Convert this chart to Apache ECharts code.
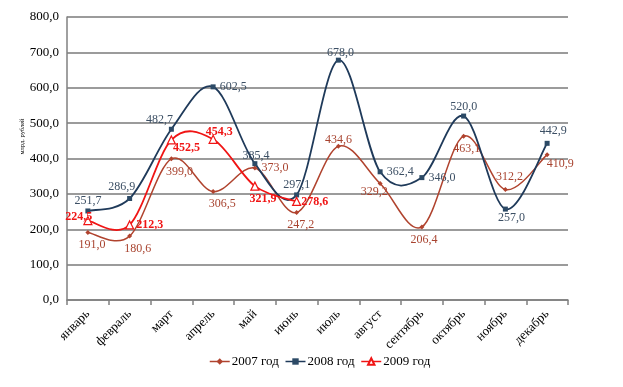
<!DOCTYPE html>
<html><head><meta charset="utf-8">
<script src="https://cdn.jsdelivr.net/npm/echarts@6/dist/echarts.min.js"></script>
<style>html,body{margin:0;padding:0;background:#fff}#c{width:623px;height:387px}</style>
</head><body><div id="c"></div>
<script>
var months = ['январь','февраль','март','апрель','май','июнь','июль','август','сентябрь','октябрь','ноябрь','декабрь'];
var y2007 = [191.0, 180.6, 399.0, 306.5, 373.0, 247.2, 434.6, 329.2, 206.4, 463.1, 312.2, 410.9];
var y2008 = [251.7, 286.9, 482.7, 602.5, 385.4, 297.1, 678.0, 362.4, 346.0, 520.0, 257.0, 442.9];
var y2009 = [224.5, 212.3, 452.5, 454.3, 321.9, 278.6];
var seriesNames = ['2007 год', '2008 год', '2009 год'];
var yTicks = [0, 100, 200, 300, 400, 500, 600, 700, 800];

// styles
var colors = ['#B0432E', '#1F3A5A', '#F01414'];
var labelColors = ['#A8432F', '#3C4F64', '#F01414'];
// label placement (style)
var pos2007 = [['bottom',[4,0]],['bottom',[8,0]],['bottom',[8,0]],['bottom',[9,0]],['right',[0,0]],['bottom',[4,0]],['top',[0,6]],['left',[14,8]],['bottom',[2,0]],['bottom',[3,0]],['top',[4,0]],['right',[-7,9]]];
var pos2008 = [['top',[0,2]],['top',[-8,1]],['top',[-12,3]],['right',[0,0]],['top',[1,5]],['top',[0,2]],['top',[2,5]],['right',[0,0]],['right',[0,0]],['top',[0,3]],['bottom',[6,-4]],['top',[6,0]]];
var pos2009 = [['left',[13,-4]],['right',[-2,0]],['right',[-7,8]],['top',[6,7]],['bottom',[8,-2]],['right',[-4,0]]];

function fmt(v){ return v.toFixed(1).replace('.', ','); }
function mk(vals, pos){
  return vals.map(function(v,i){
    return {value: v, label: {position: pos[i][0], offset: pos[i][1]}};
  });
}
// Catmull-Rom smoothed curve segments drawn through the chart's own coordinate system
function curveSeries(vals, color, width, z){
  return {
    type: 'custom', coordinateSystem: 'cartesian2d', z: z, silent: true,
    data: vals.map(function(v,i){ return [i, v]; }),
    encode: {x: 0, y: 1},
    renderItem: function(params, api){
      var i = params.dataIndex;
      if (i >= vals.length - 1) return null;
      var P = function(k){ k = Math.max(0, Math.min(vals.length-1, k)); return api.coord([k, vals[k]]); };
      var p0 = P(i-1), p1 = P(i), p2 = P(i+1), p3 = P(i+2);
      var t = 1/6;
      var c1 = [p1[0] + (p2[0]-p0[0])*t, p1[1] + (p2[1]-p0[1])*t];
      var c2 = [p2[0] - (p3[0]-p1[0])*t, p2[1] - (p3[1]-p1[1])*t];
      return {
        type: 'bezierCurve',
        shape: {x1: p1[0], y1: p1[1], x2: p2[0], y2: p2[1], cpx1: c1[0], cpy1: c1[1], cpx2: c2[0], cpy2: c2[1]},
        style: {stroke: color, lineWidth: width, fill: null}
      };
    }
  };
}
var serif = '"Liberation Serif", "DejaVu Serif", serif';
var lbl = function(c, bold){
  return {show: true, formatter: function(p){return fmt(p.value);}, fontFamily: serif, fontSize: 12, color: c, fontWeight: bold ? 'bold' : 'normal', distance: 4};
};
var chart = echarts.init(document.getElementById('c'));
chart.setOption({
  animation: false,
  backgroundColor: '#fff',
  textStyle: {fontFamily: serif},
  grid: {left: 67, right: 55, top: 17, bottom: 87},
  legend: {
    bottom: 14, left: 204, itemWidth: 20, itemHeight: 8, itemGap: 6,
    textStyle: {fontFamily: serif, fontSize: 13, color: '#000', padding: [0,0,0,-3]},
    data: seriesNames.map(function(n, k){
      return {name: n, lineStyle: {opacity: 1, width: 1.5, color: colors[k]}};
    })
  },
  xAxis: {
    type: 'category', data: months, boundaryGap: true,
    axisLine: {lineStyle: {color: '#808080', width: 1.5}},
    axisTick: {show: true, length: 5, lineStyle: {color: '#808080', width: 1.5}},
    axisLabel: {rotate: 45, fontFamily: serif, fontSize: 13, color: '#000', margin: 12}
  },
  yAxis: {
    type: 'value', min: 0, max: 800, interval: 100,
    name: 'млрд. рублей', nameLocation: 'middle', nameGap: 41, nameRotate: 90,
    nameMoveOverlap: false,
    nameTextStyle: {fontFamily: serif, fontSize: 6.5, color: '#000', padding: [0,0,0,44]},
    axisLine: {show: true, lineStyle: {color: '#808080', width: 1.5}},
    axisTick: {show: false},
    splitLine: {lineStyle: {color: '#7a7a7a', width: 1.5}},
    axisLabel: {fontFamily: serif, fontSize: 13, color: '#000', margin: 8,
      formatter: function(v){ return fmt(v); }}
  },
  series: [
    {name: seriesNames[0], type: 'line', data: mk(y2007, pos2007), z: 5,
     symbol: 'diamond', symbolSize: 5, color: colors[0],
     lineStyle: {width: 1.5, opacity: 0},
     itemStyle: {color: colors[0]}, label: lbl(labelColors[0], false)},
    {name: seriesNames[1], type: 'line', data: mk(y2008, pos2008), z: 6,
     symbol: 'rect', symbolSize: 5, color: colors[1],
     lineStyle: {width: 1.8, opacity: 0},
     itemStyle: {color: '#2C4A66'}, label: lbl(labelColors[1], false)},
    {name: seriesNames[2], type: 'line', data: mk(y2009, pos2009), z: 7,
     symbol: 'triangle', symbolSize: 8, color: colors[2],
     lineStyle: {width: 1.8, opacity: 0},
     itemStyle: {color: '#fff', borderColor: colors[2], borderWidth: 1.2}, label: lbl(labelColors[2], true)},
    curveSeries(y2007, colors[0], 1.5, 2),
    curveSeries(y2008, colors[1], 1.8, 3),
    curveSeries(y2009, colors[2], 1.8, 4)
  ]
});
</script></body></html>
